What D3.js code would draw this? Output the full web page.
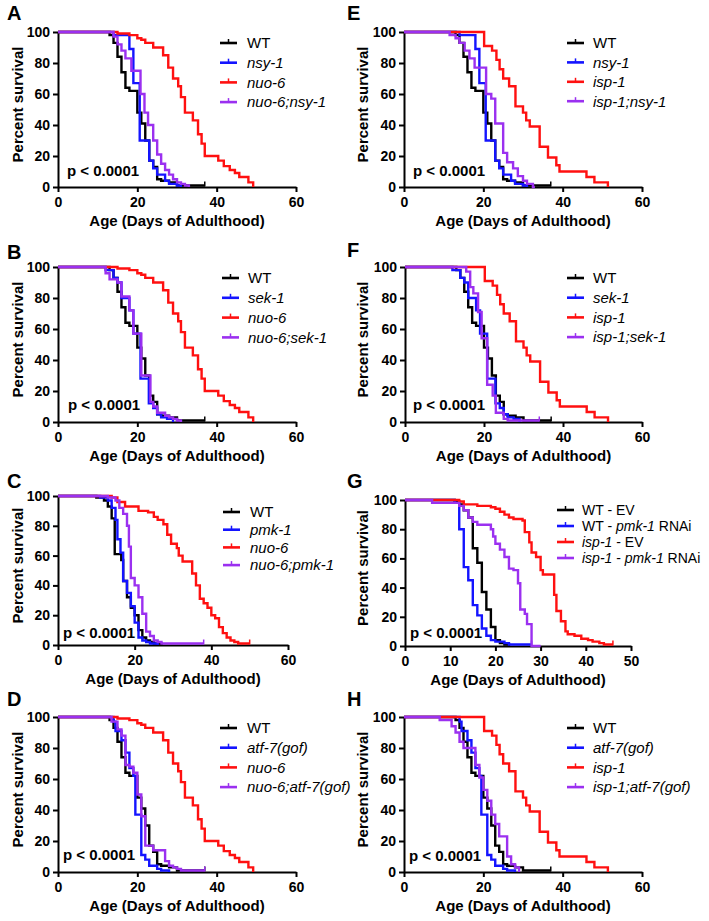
<!DOCTYPE html>
<html>
<head>
<meta charset="utf-8">
<script src="https://cdn.jsdelivr.net/npm/d3@7"></script>
<style>
  body { margin: 0; background: #fff; }
  svg text { font-family: "Liberation Sans", Arial, sans-serif; }
</style>
</head>
<body>
<svg id="chart" width="709" height="921"></svg>
<script>
// ---------------- DATA: [day, percent survival] step points ----------------
const yTicks = [0, 20, 40, 60, 80, 100];
const xTicks60 = [0, 20, 40, 60];
const xTicks50 = [0, 10, 20, 30, 40, 50];

const wt = [[0,100],[13,98],[14,93],[15,84],[16,74],[17,64],[18,62],[20,48],[21,41],[22,30],[23,17],[24,13],[25,5],[26,4],[28,3],[30,1],[37,1]];
const nsy1 = [[0,100],[14,98],[18,89],[19,67],[20.6,30],[23,17],[24,12],[25,8],[27,4],[28,2],[30,1],[31,0]];
const nuo6 = [[0,100],[15,99],[18,98],[20,96],[21,95],[22,93],[24,90],[26.5,85],[27.8,77],[29,70],[30.3,65],[31,58],[32,48],[34,43],[35.3,34],[36.2,28],[37,20],[40.4,17],[41.8,13.5],[43.3,11],[44.6,9],[45.7,6.5],[48,3],[49.2,0]];
const nuo6nsy1 = [[0,100],[14,97],[15,92],[16,88],[17,83],[18.5,75],[20.8,60],[21.8,48],[22.7,40],[24,30],[25,21],[26,15],[27,11],[28,8],[29,5],[30,3],[31,2],[32,1],[33,0]];
const isp1 = [[0,100],[20.2,91],[22.2,88],[23.3,82],[24.1,76],[25,70],[26.5,65],[28.1,52],[30,48],[30.8,43],[31.7,39],[34.2,26],[36.3,19],[38.4,14],[39.2,10],[46,6.5],[48,3],[51.4,0]];
const isp1nsy1 = [[0,100],[11.5,98],[13,96],[14,93],[15.3,88],[16.5,83],[17.8,77],[20.7,60],[22,57],[23,41],[25,22],[26,16],[27.5,12],[28.7,7],[30,4],[31,2],[32.5,0],[33,0]];
const sek1 = [[0,100],[12,98],[14,93],[15,90],[16,80],[18,72],[19,57],[20.8,28],[22.9,12],[24,9],[25,5],[26,3],[27.5,2],[29,0]];
const nuo6sek1 = [[0,100],[12,96],[13,92],[15,90],[16,81],[18,72],[19,57],[21,30],[23.3,13],[24,10],[25,6],[27,4],[28,3],[29,2],[30,1],[31,0]];
const isp1sek1 = [[0,100],[15.5,97],[16.5,87],[17.3,83],[18.5,71],[19.4,54],[20.8,24],[22.2,17],[23,6],[25,2],[26,1],[34,1]];
const wtC = [[0,100],[10,99],[12,97],[13,93],[14,85],[14.8,61],[16.5,57],[17,43],[18,32],[19,25],[20,20],[21,10],[22,5],[23,3],[24,2],[25,1],[27,0]];
const pmk1 = [[0,100],[11,99],[13,97],[14,92],[15,84],[15.5,71],[16.3,62],[17,43],[18,35],[19,26],[20,15],[21,5],[22,3],[23,2],[24,1],[26,0]];
const nuo6C = [[0,100],[14,99],[15.5,96],[17.5,93],[21,90],[23.5,89],[25,86],[26,84],[27.5,81],[28.5,74],[29.5,68],[31,65],[31.5,60],[32.5,56],[35,48],[36,40],[37,31],[38,28],[39,25],[40,20],[41,18],[42,12],[43,8],[44,5],[45,3],[46,2],[47,1],[50,1]];
const nuo6pmk1 = [[0,100],[13,99],[15,97],[16,92],[17,88],[18,80],[18.5,66],[19,45],[20,40],[21,32],[22,21],[23,9],[24,6],[25,3],[26,2],[27,1],[38,1]];
const wtEV = [[0,100],[11,99],[12,97],[13,93],[14,88],[15,67],[16,57],[17,37],[18,25],[19,13],[20,4],[21,2],[22,1],[23,0]];
const wtPmk1 = [[0,100],[11,98],[12,80],[13,54],[14,45],[15,28],[16,21],[17,12],[18,7],[19,4],[20,3],[22,2],[23,1],[28,1]];
const isp1EV = [[0,100],[12,99],[13,97],[16,96],[19,95],[20,94],[21,92],[22,90],[23,88],[24,87],[26,86],[26.5,78],[27.5,71],[28,64],[29,61],[30,52],[30.5,49],[33,35],[33.5,24],[34.5,17],[35.5,10],[36,8],[37.5,7],[39,5],[40.5,4],[41.5,3],[43,2],[44,1],[46,1]];
const isp1Pmk1 = [[0,100],[6,98],[12,96],[13,93],[14,88],[15,85],[16,83],[19,80],[19.5,75],[20,70],[21,66],[22,61],[23,53],[24,52],[25,43],[25.5,25],[26.5,22],[27,15],[28,0],[30,0]];
const atf7 = [[0,100],[14,97],[14.5,91],[16,85],[17,77],[18,67],[19,62],[19.5,37],[21,11],[22,8],[23,4],[25,2],[26,1],[28,0]];
const nuo6atf7 = [[0,100],[13.5,97],[15,92],[16,88],[17,69],[18,68],[19,64],[20,50],[21,36],[22,17],[24,14],[27,7],[28,4],[29,3],[30,2],[31,1],[37,1]];
const isp1atf7 = [[0,100],[9,98],[12,94],[13,90],[14,84],[15,80],[18,69],[19,61],[20,53],[21,46],[22,37],[23,31],[24,23],[26,10],[27,5],[28,3],[29,0]];

const pLabel = "p < 0.0001";
const xTitle = "Age (Days of Adulthood)";
const yTitle = "Percent survival";

// label segments: [text, italic]
const L = {
  WT: [["WT", false]],
  nsy1: [["nsy-1", true]],
  nuo6: [["nuo-6", true]],
  nuo6nsy1: [["nuo-6;nsy-1", true]],
  isp1: [["isp-1", true]],
  isp1nsy1: [["isp-1;nsy-1", true]],
  sek1: [["sek-1", true]],
  nuo6sek1: [["nuo-6;sek-1", true]],
  isp1sek1: [["isp-1;sek-1", true]],
  pmk1: [["pmk-1", true]],
  nuo6pmk1: [["nuo-6;pmk-1", true]],
  wtEV: [["WT - EV", false]],
  wtPmk1: [["WT - ", false], ["pmk-1", true], [" RNAi", false]],
  isp1EV: [["isp-1", true], [" - EV", false]],
  isp1Pmk1: [["isp-1", true], [" - ", false], ["pmk-1", true], [" RNAi", false]],
  atf7: [["atf-7(gof)", true]],
  nuo6atf7: [["nuo-6;atf-7(gof)", true]],
  isp1atf7: [["isp-1;atf-7(gof)", true]]
};

const COL = { k: "#000000", b: "#1414ff", r: "#ff1010", p: "#9b30f0" };

// ---------------- LAYOUT ----------------
const panels = [
  { letter: "A", lx: 7, ly: 20, x0: 58, x1: 296, y0: 187, y1: 32, xmax: 60, xt: xTicks60, tx: 17,
    leg: { lx: 220, tx: 247, y: 43, dy: 19.7, fs: 15 }, p: [67, 176],
    series: [[wt, COL.k, L.WT], [nsy1, COL.b, L.nsy1], [nuo6, COL.r, L.nuo6], [nuo6nsy1, COL.p, L.nuo6nsy1]] },
  { letter: "E", lx: 347, ly: 20, x0: 404, x1: 642, y0: 187, y1: 32, xmax: 60, xt: xTicks60, tx: 362,
    leg: { lx: 567, tx: 593, y: 43, dy: 19.4, fs: 15 }, p: [413, 176],
    series: [[wt, COL.k, L.WT], [nsy1, COL.b, L.nsy1], [isp1, COL.r, L.isp1], [isp1nsy1, COL.p, L.isp1nsy1]] },
  { letter: "B", lx: 7, ly: 259, x0: 58, x1: 296, y0: 422, y1: 267, xmax: 60, xt: xTicks60, tx: 17,
    leg: { lx: 222, tx: 248, y: 278, dy: 19.8, fs: 15 }, p: [68, 410],
    series: [[wt, COL.k, L.WT], [sek1, COL.b, L.sek1], [nuo6, COL.r, L.nuo6], [nuo6sek1, COL.p, L.nuo6sek1]] },
  { letter: "F", lx: 347, ly: 257, x0: 405, x1: 642, y0: 422, y1: 267, xmax: 60, xt: xTicks60, tx: 362,
    leg: { lx: 567, tx: 593, y: 278, dy: 19.7, fs: 15 }, p: [413, 410],
    series: [[wt, COL.k, L.WT], [sek1, COL.b, L.sek1], [isp1, COL.r, L.isp1], [isp1sek1, COL.p, L.isp1sek1]] },
  { letter: "C", lx: 7, ly: 488, x0: 58, x1: 288, y0: 645, y1: 496, xmax: 60, xt: xTicks60, tx: 17,
    leg: { lx: 223, tx: 250, y: 512, dy: 17.7, fs: 15 }, p: [63, 638],
    series: [[wtC, COL.k, L.WT], [pmk1, COL.b, L.pmk1], [nuo6C, COL.r, L.nuo6], [nuo6pmk1, COL.p, L.nuo6pmk1]] },
  { letter: "G", lx: 347, ly: 488, x0: 405, x1: 631, y0: 646, y1: 500, xmax: 50, xt: xTicks50, tx: 362,
    leg: { lx: 557, tx: 582, y: 510, dy: 16, fs: 14 }, p: [410, 638],
    series: [[wtEV, COL.k, L.wtEV], [wtPmk1, COL.b, L.wtPmk1], [isp1EV, COL.r, L.isp1EV], [isp1Pmk1, COL.p, L.isp1Pmk1]] },
  { letter: "D", lx: 7, ly: 706, x0: 58, x1: 296, y0: 872, y1: 717, xmax: 60, xt: xTicks60, tx: 17,
    leg: { lx: 220, tx: 247, y: 728, dy: 19.7, fs: 15 }, p: [63, 860],
    series: [[wt, COL.k, L.WT], [atf7, COL.b, L.atf7], [nuo6, COL.r, L.nuo6], [nuo6atf7, COL.p, L.nuo6atf7]] },
  { letter: "H", lx: 347, ly: 706, x0: 404, x1: 642, y0: 872, y1: 717, xmax: 60, xt: xTicks60, tx: 362,
    leg: { lx: 567, tx: 593, y: 728, dy: 19.7, fs: 15 }, p: [409, 861],
    series: [[wt, COL.k, L.WT], [atf7, COL.b, L.atf7], [isp1, COL.r, L.isp1], [isp1atf7, COL.p, L.isp1atf7]] }
];

const svg = d3.select("#chart");
const FONT = '"Liberation Sans", Arial, sans-serif';

function styleAxis(a) {
  a.attr("font-family", FONT).attr("font-size", 14).attr("font-weight", "bold");
  a.select(".domain").attr("stroke", "#000").attr("stroke-width", 2);
  a.selectAll(".tick line").attr("stroke", "#000").attr("stroke-width", 2);
  a.selectAll(".tick text").attr("fill", "#000");
}

panels.forEach(p => {
  const g = svg.append("g");
  const x = d3.scaleLinear().domain([0, p.xmax]).range([p.x0, p.x1]);
  const y = d3.scaleLinear().domain([0, 100]).range([p.y0, p.y1]);

  // axes
  const ya = g.append("g").attr("transform", `translate(${p.x0},0)`)
    .call(d3.axisLeft(y).tickValues(yTicks).tickSize(5).tickSizeOuter(0).tickPadding(3));
  styleAxis(ya);
  const xa = g.append("g").attr("transform", `translate(0,${p.y0})`)
    .call(d3.axisBottom(x).tickValues(p.xt).tickSize(5).tickSizeOuter(0).tickPadding(5));
  styleAxis(xa);

  // curves
  const line = d3.line().x(d => x(d[0])).y(d => y(d[1])).curve(d3.curveStepAfter);
  p.series.forEach(([data, color]) => {
    g.append("path").datum(data).attr("d", line)
      .attr("fill", "none").attr("stroke", color).attr("stroke-width", 2.4)
      .attr("stroke-linejoin", "miter").attr("stroke-linecap", "butt");
    const last = data[data.length - 1];
    if (last[1] > 0) {
      g.append("line").attr("x1", x(last[0])).attr("x2", x(last[0]))
        .attr("y1", y(last[1]) - 4).attr("y2", y(last[1]) + 1)
        .attr("stroke", color).attr("stroke-width", 1.5);
    }
  });

  // panel letter
  g.append("text").attr("x", p.lx).attr("y", p.ly).text(p.letter)
    .attr("font-size", 20).attr("font-weight", "bold").attr("fill", "#000");

  // axis titles
  g.append("text").attr("x", (p.x0 + p.x1) / 2).attr("y", p.y0 + 39)
    .attr("text-anchor", "middle").attr("font-size", 15).attr("font-weight", "bold").text(xTitle);
  const cy = (p.y0 + p.y1) / 2 - 5;
  g.append("text").attr("transform", `translate(${p.tx + 5.5},${cy}) rotate(-90)`)
    .attr("text-anchor", "middle").attr("font-size", 15).attr("font-weight", "bold").text(yTitle);

  // p value
  g.append("text").attr("x", p.p[0]).attr("y", p.p[1])
    .attr("font-size", 15).attr("font-weight", "bold").text(pLabel);

  // legend
  p.series.forEach(([data, color, label], i) => {
    const ry = p.leg.y + i * p.leg.dy;
    g.append("line").attr("x1", p.leg.lx).attr("x2", p.leg.lx + 17)
      .attr("y1", ry).attr("y2", ry).attr("stroke", color).attr("stroke-width", 2.6);
    g.append("line").attr("x1", p.leg.lx + 8.5).attr("x2", p.leg.lx + 8.5)
      .attr("y1", ry - 4).attr("y2", ry).attr("stroke", color).attr("stroke-width", 1.5);
    const t = g.append("text").attr("x", p.leg.tx).attr("y", ry + 5.3)
      .attr("font-size", p.leg.fs).attr("fill", "#000");
    label.forEach(([s, it]) => {
      t.append("tspan").text(s).attr("font-style", it ? "italic" : "normal");
    });
  });
});
</script>
</body>
</html>
